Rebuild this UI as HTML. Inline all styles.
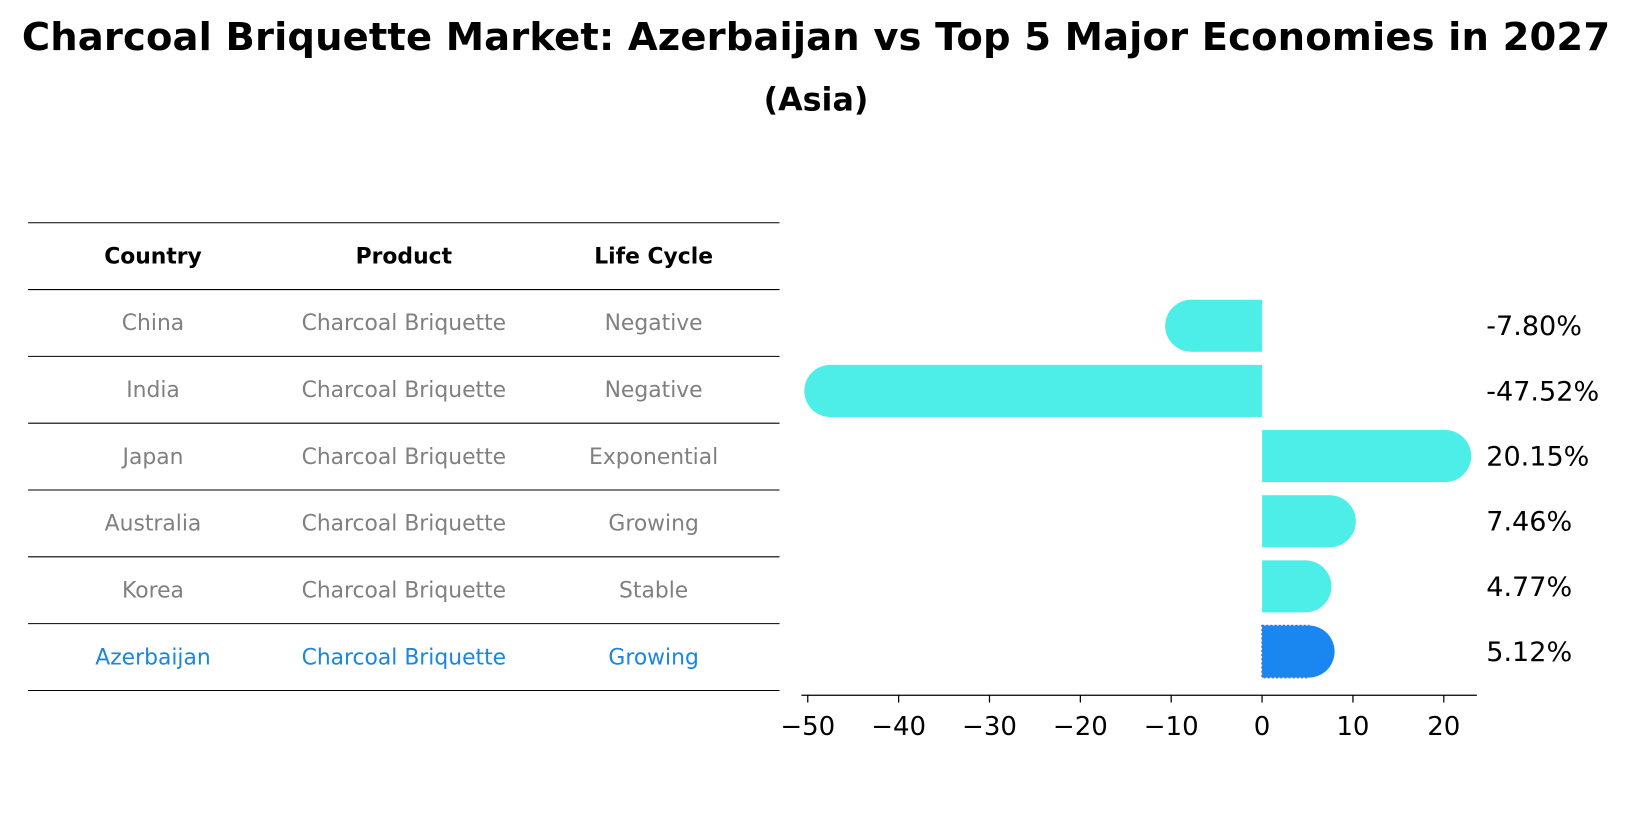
<!DOCTYPE html>
<html><head><meta charset="utf-8"><style>
body{margin:0;background:#fff;font-family:"Liberation Sans","DejaVu Sans",sans-serif;}
#wrap{position:relative;width:1632px;height:823px;overflow:hidden;}
#svg{position:absolute;left:0;top:0;transform:scale(1.0408);transform-origin:0 0;}
</style></head><body>
<div id="wrap">
<svg id="svg" width="1568" height="791">
<text x="784" y="48" text-anchor="middle" font-family="DejaVu Sans, sans-serif" font-weight="bold" font-size="37" textLength="1526">Charcoal Briquette Market: Azerbaijan vs Top 5 Major Economies in 2027</text>
<text x="784" y="106" text-anchor="middle" font-family="DejaVu Sans, sans-serif" font-weight="bold" font-size="30.5">(Asia)</text>
</svg>
</div>
<script>
const countries=["China","India","Japan","Australia","Korea","Azerbaijan"];
const products=["Charcoal Briquette","Charcoal Briquette","Charcoal Briquette","Charcoal Briquette","Charcoal Briquette","Charcoal Briquette"];
const lifeCycles=["Negative","Negative","Exponential","Growing","Stable","Growing"];
const growth=[-7.80,-47.52,20.15,7.46,4.77,5.12];
const ticks=[-50,-40,-30,-20,-10,0,10,20];
const NS="http://www.w3.org/2000/svg";
const svg=document.getElementById('svg');
function mk(tag,attrs,txt){const e=document.createElementNS(NS,tag);for(const k in attrs)e.setAttribute(k,attrs[k]);if(txt!==undefined)e.textContent=txt;svg.appendChild(e);return e;}
const F="DejaVu Sans, Liberation Sans, sans-serif";
const colX=[147,388,628];
const rowTop=214,rowH=64.2;
for(let i=0;i<=countries.length+1;i++){
  const l=mk('line',{x1:27,x2:749,y1:rowTop+i*rowH,y2:rowTop+i*rowH,stroke:'#000','stroke-width':1});
  
  
}
["Country","Product","Life Cycle"].forEach((h,j)=>{
  const t=mk('text',{x:colX[j],y:rowTop+rowH/2+7,'text-anchor':'middle','font-family':F,'font-size':21,'font-weight':'bold'},h);
  
  
});
countries.forEach((c,i)=>{
  const y=rowTop+(i+1)*rowH+rowH/2+7;
  const col=c==="Azerbaijan"?'#1a86e0':'#808080';
  [c,products[i],lifeCycles[i]].forEach((v,j)=>{
    const t=mk('text',{x:colX[j],y:y,'text-anchor':'middle','font-family':F,'font-size':21,fill:col},v);
    
    
  });
});
const x0=1212.6,scale=8.73;
function X(v){return x0+v*scale;}
function Y(i){return 313+i*62.6;}
const bh=50,r=25;
growth.forEach((v,i)=>{
  const az=countries[i]==="Azerbaijan";
  const fill=az?'#1a86f0':'#4deee8';
  const xa=Math.min(X(0),X(v)),w=Math.abs(X(v)-X(0));
  const g=document.createElementNS(NS,'g');svg.appendChild(g);
  
  
  const rect=document.createElementNS(NS,'rect');
  rect.setAttribute('x',xa);rect.setAttribute('y',Y(i)-bh/2);rect.setAttribute('width',w);rect.setAttribute('height',bh);rect.setAttribute('fill',fill);
  if(az){rect.setAttribute('stroke','#3b78c8');rect.setAttribute('stroke-dasharray','2,2');rect.setAttribute('stroke-width','1.5');}
  g.appendChild(rect);
  const c=document.createElementNS(NS,'circle');
  c.setAttribute('cx',X(v));c.setAttribute('cy',Y(i));c.setAttribute('r',r);c.setAttribute('fill',fill);
  g.appendChild(c);
  const t=mk('text',{x:1428,y:Y(i)+9,'font-family':F,'font-size':26},v.toFixed(2)+'%');
  
  
});
const ax=mk('line',{x1:770,x2:1419,y1:668,y2:668,stroke:'#000','stroke-width':1.3});


ticks.forEach(v=>{
  const l=mk('line',{x1:X(v),x2:X(v),y1:668,y2:675,stroke:'#000','stroke-width':1.2});
  
  
  const t=mk('text',{x:X(v),y:706,'text-anchor':'middle','font-family':F,'font-size':25},(v<0?'\u2212'+(-v):String(v)));
  
  
});
</script>
</body></html>
